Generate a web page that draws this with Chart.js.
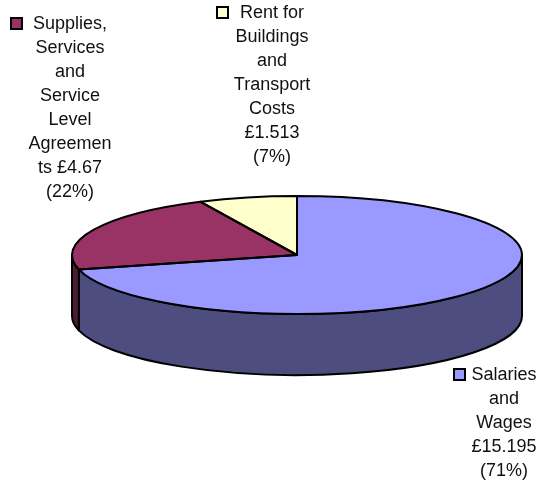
<!DOCTYPE html>
<html>
<head>
<meta charset="utf-8">
<style>
  body { margin: 0; background: #fff; }
</style>
<script src="https://cdn.jsdelivr.net/npm/chart.js@4/dist/chart.umd.min.js"></script>
</head>
<body>
<canvas id="myPieChart" width="541" height="483"></canvas>
<script>
// Data
const categories = ["Salaries and Wages", "Supplies, Services and Service Level Agreements", "Rent for Buildings and Transport Costs"];
const costs = [15.195, 4.67, 1.513];
const sliceColors = ['#9999FF', '#993366', '#FFFFCC'];
const sideColors = ['#4D4D80', '#4D1A33', '#808066'];

// Label text, wrapped the same way as the original
const labelLines = [
    ["Salaries", "and", "Wages", "£15.195", "(71%)"],
    ["Supplies,", "Services", "and", "Service", "Level", "Agreemen", "ts £4.67", "(22%)"],
    ["Rent for", "Buildings", "and", "Transport", "Costs", "£1.513", "(7%)"]
];
const labelCenterX = [504, 70, 272];
const labelFirstY = [375, 24, 13];
const keyLeft = [454, 11, 217];
const keyTop = [369, 18, 7];

const TILT = 59 / 225; // squash of the pie into an ellipse
const DEPTH = 61;      // height of the side wall

const pie3d = {
    id: 'pie3d',
    beforeDatasetsDraw(chart) {
        const ctx = chart.ctx;
        const arcs = chart.getDatasetMeta(0).data;
        const cx = arcs[0].x, cy = arcs[0].y, rx = arcs[0].outerRadius, ry = rx * TILT;

        // side wall, only the front half of the ellipse is visible
        ctx.save();
        ctx.lineWidth = 2;
        ctx.strokeStyle = '#000';
        ctx.lineJoin = 'round';
        arcs.forEach((arc, i) => {
            const a = Math.max(arc.startAngle, 0);
            const b = Math.min(arc.endAngle, Math.PI);
            if (b <= a) return;
            ctx.beginPath();
            ctx.ellipse(cx, cy, rx, ry, 0, a, b);
            ctx.ellipse(cx, cy + DEPTH, rx, ry, 0, b, a, true);
            ctx.closePath();
            ctx.fillStyle = sideColors[i];
            ctx.fill();
            ctx.stroke();
        });
        ctx.restore();

        // the library draws the slices, squashed
        ctx.save();
        ctx.translate(cx, cy);
        ctx.scale(1, TILT);
        ctx.translate(-cx, -cy);
    },
    afterDatasetsDraw(chart) {
        const ctx = chart.ctx;
        ctx.restore();
        const arcs = chart.getDatasetMeta(0).data;
        const cx = arcs[0].x, cy = arcs[0].y, rx = arcs[0].outerRadius, ry = rx * TILT;

        // slice outlines, drawn unsquashed so the line stays even
        ctx.save();
        ctx.lineWidth = 2;
        ctx.strokeStyle = '#000';
        ctx.lineJoin = 'round';
        arcs.forEach(arc => {
            ctx.beginPath();
            ctx.moveTo(cx, cy);
            ctx.ellipse(cx, cy, rx, ry, 0, arc.startAngle, arc.endAngle);
            ctx.closePath();
            ctx.stroke();
        });

        // labels with their colour keys
        ctx.font = '18px "Liberation Sans", Arial, sans-serif';
        ctx.fillStyle = '#111';
        ctx.textAlign = 'center';
        ctx.textBaseline = 'middle';
        labelLines.forEach((lines, i) => {
            lines.forEach((line, n) => {
                ctx.fillText(line, labelCenterX[i], labelFirstY[i] + n * 24);
            });
        });
        ctx.lineWidth = 2;
        ctx.lineJoin = 'miter';
        sliceColors.forEach((color, i) => {
            ctx.fillStyle = color;
            ctx.fillRect(keyLeft[i], keyTop[i], 11, 11);
            ctx.strokeRect(keyLeft[i], keyTop[i], 11, 11);
        });
        ctx.restore();
    }
};

const pie_config = {
    type: 'pie',
    data: {
        labels: categories,
        datasets: [{
            data: costs,
            backgroundColor: sliceColors,
            borderWidth: 0,
            hoverOffset: 0,
            clip: false
        }]
    },
    options: {
        responsive: false,
        animation: false,
        layout: { padding: { left: 72, right: 19, top: 30, bottom: 3 } },
        plugins: {
            legend: { display: false },
            tooltip: { enabled: false }
        }
    },
    plugins: [pie3d]
};

const myPieChart = new Chart(document.getElementById('myPieChart'), pie_config);
</script>
</body>
</html>
